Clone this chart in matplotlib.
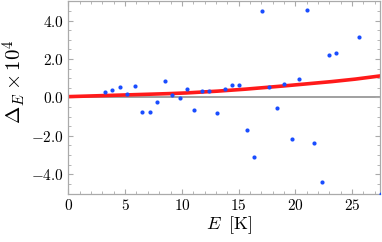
import numpy as np
import matplotlib
matplotlib.use("Agg")
import matplotlib.pyplot as plt
from matplotlib.ticker import MultipleLocator, FuncFormatter

plt.rcParams['mathtext.fontset'] = 'cm'
plt.rcParams['font.family'] = 'serif'

# data points (E in K, Delta_E x 10^4)
E_pts = [3.23, 3.88, 4.55, 5.20, 5.88, 6.52, 7.17, 7.84, 8.49, 9.16, 9.81, 10.49,
         11.07, 11.78, 12.42, 13.10, 13.78, 14.42, 15.07, 15.74, 16.39, 17.04,
         17.68, 18.36, 19.03, 19.68, 20.33, 21.00, 21.65, 22.33, 22.97, 23.60,
         25.60, 27.55]
D_pts = [0.30, 0.40, 0.54, 0.18, 0.58, -0.77, -0.75, -0.22, 0.87, 0.15, -0.03, 0.42,
         -0.65, 0.32, 0.35, -0.80, 0.44, 0.63, 0.65, -1.72, -3.08, 4.50,
         0.56, -0.56, 0.70, -2.19, 0.94, 4.55, -2.37, -4.39, 2.22, 2.29,
         3.12, -5.02]

# fitted curve
E_fit = [0, 2.5, 5, 7.5, 10, 12.5, 15, 17.5, 20, 22.5, 25, 27.5]
D_fit = [0.04, 0.08, 0.13, 0.17, 0.22, 0.30, 0.40, 0.52, 0.65, 0.78, 0.93, 1.12]

x_ticks = [0, 5, 10, 15, 20, 25]
y_ticks = [-4, -2, 0, 2, 4]

fig = plt.figure(figsize=(3.82, 2.42), dpi=100)
ax = fig.add_axes([0.179, 0.2004, 0.817, 0.7942])

ax.axhline(0, color='#999999', lw=1.3, zorder=1)
Ed = np.linspace(0, 27.5, 200)
ax.plot(Ed, np.interp(Ed, E_fit, D_fit), color='#ff1a1a', lw=2.6, zorder=2)
ax.scatter(E_pts, D_pts, s=9, color='#1a4dff', zorder=3, linewidths=0)

ax.set_xlim(0, 27.5)
ax.set_ylim(-5, 5)
ax.set_xticks(x_ticks)
ax.set_yticks(y_ticks)
ax.xaxis.set_minor_locator(MultipleLocator(1))
ax.yaxis.set_minor_locator(MultipleLocator(0.5))
ax.xaxis.set_major_formatter(FuncFormatter(lambda v, p: f"${v:g}$"))
ax.yaxis.set_major_formatter(FuncFormatter(lambda v, p: f"${v:.1f}$"))

for s in ax.spines.values():
    s.set_color('#aaaaaa')
    s.set_linewidth(0.9)
ax.tick_params(which='both', direction='in', top=True, right=True, color='#aaaaaa',
               labelsize=11)
ax.tick_params(which='major', length=3.5, width=0.8)
ax.tick_params(which='minor', length=2, width=0.6)

ax.set_xlabel(r"$E\;\;[\mathrm{K}]$", fontsize=13, labelpad=1)
ax.set_ylabel(r"$\Delta_E\times10^4$", fontsize=15, labelpad=2)
ax.xaxis.label.set_x(0.515)
ax.yaxis.label.set_y(0.582)

fig.savefig("out.png", dpi=100)
